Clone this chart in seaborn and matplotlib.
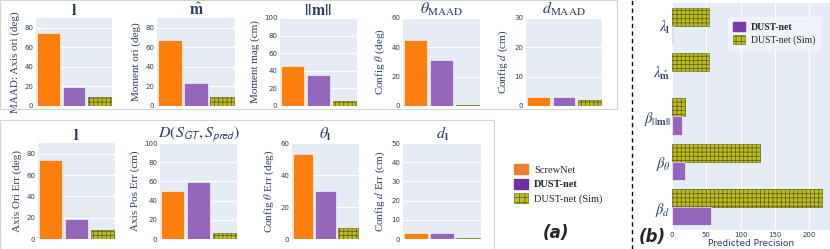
import matplotlib
matplotlib.use("Agg")
import matplotlib.pyplot as plt
import seaborn as sns
import pandas as pd
from matplotlib.patches import Rectangle, Patch
from matplotlib.lines import Line2D

# ---------------- data ----------------
models = ["ScrewNet", "DUST-net", "DUST-net (Sim)"]

maad_axis_ori = [74.9, 19.2, 8.9]
maad_moment_ori = [67.7, 23.7, 9.3]
maad_moment_mag = [45.2, 35.0, 5.3]
maad_config_theta = [44.7, 31.3, 0.7]
maad_config_d = [3.0, 3.0, 2.1]

err_axis_ori = [73.8, 18.7, 8.4]
err_axis_pos = [50.5, 58.9, 5.9]
err_config_theta = [53.1, 30.3, 7.1]
err_config_d = [3.0, 3.0, 0.7]

precision_params = [r"$\lambda_{\mathbf{l}}$", r"$\lambda_{\hat{\mathbf{m}}}$",
                    r"$\beta_{\mathbf{||m||}}$", r"$\beta_{\theta}$", r"$\beta_{d}$"]
precision_dust = [1.0, 0.0, 14.6, 19.0, 57.0]
precision_sim = [53.5, 53.5, 18.5, 128.0, 219.0]

# ---------------- style ----------------
sns.set_style("white")
plt.rcParams["font.family"] = ["DejaVu Sans"]
plt.rcParams["mathtext.fontset"] = "stix"
plt.rcParams["hatch.linewidth"] = 0.5

W, H = 830, 249
fig = plt.figure(figsize=(W / 100, H / 100), dpi=100)

BG = "#e5ecf6"
TXT = "#2a3f5f"
colors = {"ScrewNet": "#ff7f0e", "DUST-net": "#9467bd", "DUST-net (Sim)": "#bcbd22"}
HATCH_EDGE = "#5c5c0c"
SERIF = "Liberation Serif"


def add_ax(x0, x1, y0, y1):
    return fig.add_axes([x0 / W, 1 - y1 / H, (x1 - x0) / W, (y1 - y0) / H])


def bar_panel(box, values, ylabel, title, ymax, step):
    ax = add_ax(*box)
    df = pd.DataFrame({"model": models, "value": values})
    sns.barplot(data=df, x="model", y="value", hue="model", order=models,
                hue_order=models, palette=colors, width=0.9, saturation=1,
                legend=False, ax=ax)
    for i, cont in enumerate(ax.containers):
        for p in cont:
            if i == 2:
                p.set_hatch("++++")
                p.set_edgecolor(HATCH_EDGE)
                p.set_linewidth(0.4)
            else:
                p.set_edgecolor("white")
                p.set_linewidth(0.4)
    ax.set_facecolor(BG)
    ax.set_xlim(-0.5, 2.5)
    ax.set_ylim(0, ymax)
    ticks = list(range(0, int(ymax) + 1, step))
    ax.set_yticks(ticks)
    ax.yaxis.grid(True, color="white", linewidth=0.8)
    ax.set_axisbelow(True)
    ax.set_xticks([])
    ax.set_xlabel("")
    ax.tick_params(axis="y", length=0, labelsize=5, colors=TXT, pad=2)
    for s in ax.spines.values():
        s.set_visible(False)
    ax.set_ylabel(ylabel, family=SERIF, fontsize=8, color=TXT, labelpad=3)
    ax.set_title(title, fontsize=11.5, color=TXT, pad=1)
    return ax


# top row
bar_panel((36, 112, 18, 106), maad_axis_ori, "MAAD: Axis ori (deg)", r"$\mathbf{l}$", 90, 20)
bar_panel((157, 235, 18, 106), maad_moment_ori, "Moment ori (deg)", r"$\hat{\mathbf{m}}$", 90, 20)
bar_panel((280, 357, 18, 106), maad_moment_mag, "Moment mag (cm)", r"$\mathbf{||m||}$", 100, 20)
bar_panel((403, 480, 18, 106), maad_config_theta, r"Config $\theta$ (deg)", r"$\theta_{\mathrm{MAAD}}$", 60, 20)
bar_panel((526, 602, 18, 106), maad_config_d, r"Config $d$ (cm)", r"$d_{\mathrm{MAAD}}$", 30, 10)

# bottom row
bar_panel((38, 115, 143, 239), err_axis_ori, "Axis Ori Err (deg)", r"$\mathbf{l}$", 90, 20)
bar_panel((160, 237, 143, 239), err_axis_pos, "Axis Pos Err (cm)",
          r"$D(S_{\mathsf{GT}}, S_{\mathsf{pred}})$", 100, 20)
bar_panel((292, 359, 143, 239), err_config_theta, r"Config $\theta$ Err (deg)", r"$\theta_{\mathbf{l}}$", 60, 20)
bar_panel((403, 481, 143, 239), err_config_d, r"Config $d$ Err (cm)", r"$d_{\mathbf{l}}$", 50, 10)

# boxes around rows
fig.add_artist(Rectangle((0, 1 - 109 / H), 617 / W, 109 / H, transform=fig.transFigure,
                         fill=False, edgecolor="#d4d4d4", linewidth=0.8))
fig.add_artist(Rectangle((0, -0.01), 494 / W, (249 - 120) / H + 0.01, transform=fig.transFigure,
                         fill=False, edgecolor="#d4d4d4", linewidth=0.8))

# legend (a)
handles_a = [Patch(facecolor="#ed7d31", edgecolor="#ed7d31", label="ScrewNet"),
             Patch(facecolor="#7030a0", edgecolor="#7030a0", label="DUST-net"),
             Patch(facecolor="#bcbd22", edgecolor=HATCH_EDGE, hatch="+++", linewidth=0.4,
                   label="DUST-net (Sim)")]
leg_a = fig.legend(handles=handles_a, loc="upper left", bbox_to_anchor=(505 / W, 1 - 155 / H),
                   frameon=False, prop={"family": SERIF, "size": 7.5}, handlelength=1.3,
                   handleheight=1.1, labelspacing=0.35, handletextpad=0.6)
leg_a.get_texts()[1].set_fontweight("bold")
fig.text(556 / W, 1 - 233 / H, "(a)", fontsize=12, fontweight="bold", style="italic",
         ha="center", va="center")

# dashed divider
fig.add_artist(Line2D([632 / W, 632 / W], [0, 1], transform=fig.transFigure,
                      color="black", linestyle=(0, (3, 2.5)), linewidth=1))

# panel (b)
axb = add_ax(672, 830, 3, 230)
dfb = pd.DataFrame({
    "param": precision_params * 2,
    "value": precision_sim + precision_dust,
    "model": ["DUST-net (Sim)"] * len(precision_params) + ["DUST-net"] * len(precision_params),
})
sns.barplot(data=dfb, y="param", x="value", hue="model", order=precision_params,
            hue_order=["DUST-net (Sim)", "DUST-net"],
            palette={"DUST-net (Sim)": "#bcbd22", "DUST-net": "#9467bd"},
            width=0.8, saturation=1, legend=False, orient="h", ax=axb)
for i, cont in enumerate(axb.containers):
    for p in cont:
        if i == 0:
            p.set_hatch("++++")
            p.set_edgecolor(HATCH_EDGE)
            p.set_linewidth(0.4)
        else:
            p.set_edgecolor("white")
            p.set_linewidth(0.4)
axb.set_facecolor(BG)
axb.set_xlim(0, 230)
axb.set_xticks([0, 50, 100, 150, 200])
axb.xaxis.grid(True, color="white", linewidth=0.8)
axb.set_axisbelow(True)
for s in axb.spines.values():
    s.set_visible(False)
axb.tick_params(axis="x", length=0, labelsize=5, colors=TXT, pad=1.5)
axb.tick_params(axis="y", length=0, labelsize=10.5, colors=TXT, pad=1)
axb.set_ylabel("")
axb.set_xlabel("Predicted Precision", fontsize=6.5, color=TXT, labelpad=0.5)

handles_b = [Patch(facecolor="#7b3aa8", edgecolor="#7b3aa8", label="DUST-net"),
             Patch(facecolor="#bcbd22", edgecolor=HATCH_EDGE, hatch="+++", linewidth=0.4,
                   label="DUST-net (Sim)")]
leg_b = fig.legend(handles=handles_b, loc="upper left", bbox_to_anchor=(723 / W, 1 - 12 / H),
                   frameon=True, prop={"family": SERIF, "size": 7}, handlelength=1.3,
                   handleheight=1.1, labelspacing=0.3, handletextpad=0.6, borderpad=0.5,
                   fancybox=False)
leg_b.get_frame().set_facecolor("#f2f5fa")
leg_b.get_frame().set_edgecolor("#f2f5fa")
leg_b.get_texts()[0].set_fontweight("bold")
fig.text(652 / W, 1 - 237 / H, "(b)", fontsize=12, fontweight="bold", style="italic",
         ha="center", va="center")

fig.savefig("out.png", dpi=100)
